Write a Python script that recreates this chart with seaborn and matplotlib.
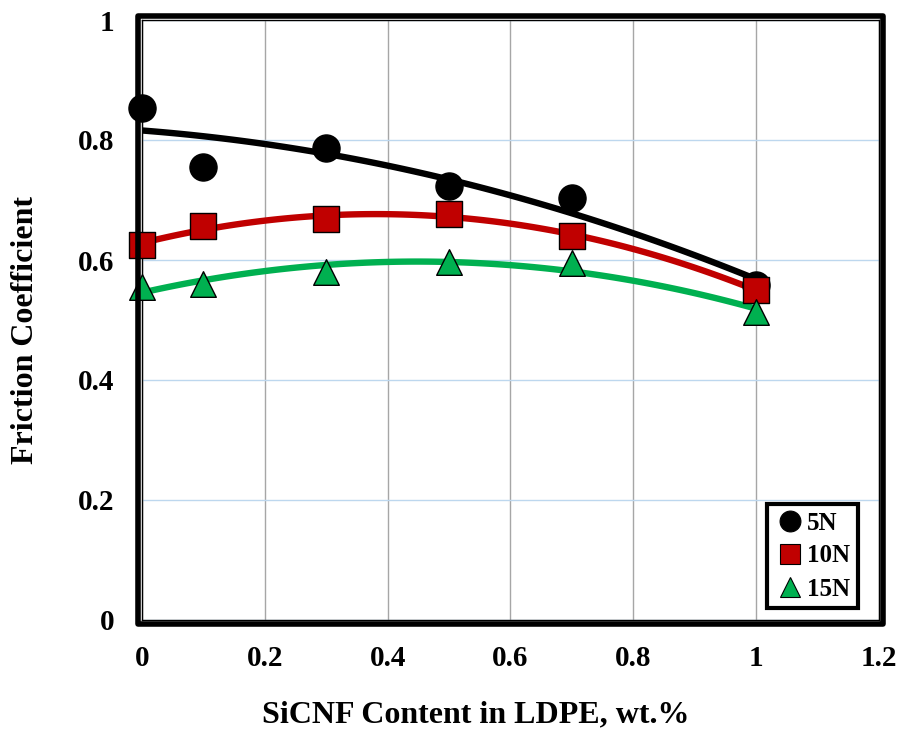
import matplotlib
matplotlib.use("Agg")
import matplotlib.pyplot as plt
import seaborn as sns
import pandas as pd
from matplotlib.patches import Rectangle
from matplotlib.lines import Line2D

sicnf = [0.0, 0.1, 0.3, 0.5, 0.7, 1.0]
f_5n = [0.853, 0.755, 0.787, 0.723, 0.703, 0.558]
f_10n = [0.625, 0.657, 0.668, 0.677, 0.640, 0.550]
f_15n = [0.555, 0.560, 0.580, 0.597, 0.595, 0.513]
series_names = ["5N", "10N", "15N"]
xticks = [0, 0.2, 0.4, 0.6, 0.8, 1.0, 1.2]
xtick_labels = ["0", "0.2", "0.4", "0.6", "0.8", "1", "1.2"]
yticks = [0, 0.2, 0.4, 0.6, 0.8, 1.0]
ytick_labels = ["0", "0.2", "0.4", "0.6", "0.8", "1"]

sns.set_theme(style="white")
plt.rcParams["font.family"] = ["Liberation Serif", "DejaVu Serif"]
plt.rcParams["font.weight"] = "bold"
plt.rcParams["text.color"] = "black"
plt.rcParams["axes.labelcolor"] = "black"
plt.rcParams["xtick.color"] = "black"
plt.rcParams["ytick.color"] = "black"
plt.rcParams["xtick.labelcolor"] = "black"
plt.rcParams["ytick.labelcolor"] = "black"

df = pd.DataFrame({
    "x": sicnf * 3,
    "y": f_5n + f_10n + f_15n,
    "load": [series_names[0]] * 6 + [series_names[1]] * 6 + [series_names[2]] * 6,
})

colors = {"5N": "#000000", "10N": "#c00000", "15N": "#00b050"}
markers = {"5N": "o", "10N": "s", "15N": "^"}
msize = {"5N": 380, "10N": 350, "15N": 340}
legsize = {"5N": 15, "10N": 14, "15N": 15}

fig = plt.figure(figsize=(8.99, 7.30), dpi=100)
W, H = 899, 730
x0, x1, y0, y1 = 142, 879, 620, 20
ax = fig.add_axes([x0 / W, (H - y0) / H, (x1 - x0) / W, (y0 - y1) / H])

# trendlines (quadratic fits)
for name in series_names:
    sub = df[df["load"] == name]
    sns.regplot(data=sub, x="x", y="y", order=2, ci=None, scatter=False,
                line_kws=dict(color=colors[name], lw=4.6, solid_capstyle="butt", zorder=3),
                ax=ax)

for name in series_names:
    sub = df[df["load"] == name]
    sns.scatterplot(data=sub, x="x", y="y", marker=markers[name], s=msize[name],
                    color=colors[name], edgecolor="black", linewidth=1.0,
                    ax=ax, zorder=4, legend=False, clip_on=False)

ax.set_xlim(0, 1.2)
ax.set_ylim(0, 1.0)
ax.set_xticks(xticks)
ax.set_xticklabels(xtick_labels)
ax.set_yticks(yticks)
ax.set_yticklabels(ytick_labels)
ax.tick_params(axis="both", length=0, labelsize=21, labelcolor="black")
ax.tick_params(axis="x", pad=18)
ax.tick_params(axis="y", pad=20)
for lab in ax.get_xticklabels() + ax.get_yticklabels():
    lab.set_fontweight("bold")

ax.set_axisbelow(True)
ax.xaxis.grid(True, color="#a6a6a6", lw=1.0)
ax.yaxis.grid(True, color="#bdd7ee", lw=1.0)

for sp in ax.spines.values():
    sp.set_color("black")
    sp.set_linewidth(1.0)

# outer thick frame
pad = 4
fig.add_artist(Rectangle(((x0 - pad) / W, (H - y0 - pad) / H),
                         (x1 - x0 + 2 * pad) / W, (y0 - y1 + 2 * pad) / H,
                         transform=fig.transFigure, fill=False, lw=4, ec="black",
                         joinstyle="round"))

ax.set_xlabel("SiCNF Content in LDPE, wt.%", fontsize=23, fontweight="bold", color="black")
ax.set_ylabel("Friction Coefficient", fontsize=23, fontweight="bold", color="black")
ax.xaxis.set_label_coords((476 - x0) / (x1 - x0), (y0 - 715) / (y0 - y1))
ax.xaxis.label.set_va("center")
ax.yaxis.set_label_coords((25 - x0) / (x1 - x0), (y0 - 330) / (y0 - y1))
ax.yaxis.label.set_va("center")

handles = [Line2D([], [], ls="none", marker=markers[n], color=colors[n], mec="black",
                  mew=0.8, markersize=legsize[n]) for n in series_names]
leg = ax.legend(handles, series_names, loc="lower right",
                bbox_to_anchor=((858 - x0) / (x1 - x0), (y0 - 608) / (y0 - y1)),
                prop={"weight": "bold", "size": 18}, frameon=True, fancybox=False,
                framealpha=1.0, edgecolor="black",
                handletextpad=0.1, handlelength=1.2, labelspacing=0.4,
                borderpad=0.3, borderaxespad=0.0, labelcolor="black")
leg.get_frame().set_edgecolor("black")
leg.get_frame().set_linewidth(3)
leg.set_zorder(10)

fig.savefig("out.png", dpi=100)
